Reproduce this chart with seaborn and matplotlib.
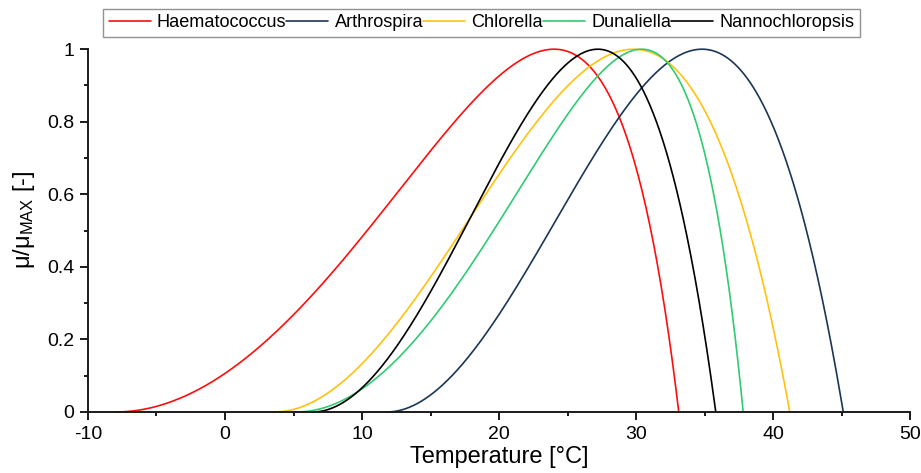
import numpy as np
import pandas as pd
import matplotlib
matplotlib.use("Agg")
import matplotlib.pyplot as plt
import seaborn as sns
from matplotlib.ticker import MultipleLocator

# Cardinal temperatures (°C) of each microalga for the CTMI growth model
species = ["Haematococcus", "Arthrospira", "Chlorella", "Dunaliella", "Nannochloropsis"]
t_min = [-8.0, 11.8, 3.6, 5.2, 6.4]
t_opt = [24.0, 34.8, 29.8, 30.4, 27.2]
t_max = [33.1, 45.1, 41.2, 37.8, 35.8]
colors = ["#FF0D0D", "#1B3656", "#FFC20E", "#2FCB72", "#000000"]


def ctmi(T, tmin, topt, tmax):
    """Cardinal temperature model with inflection (Rosso et al.)."""
    num = (T - tmax) * (T - tmin) ** 2
    den = (topt - tmin) * ((topt - tmin) * (T - topt)
                           - (topt - tmax) * (topt + tmin - 2 * T))
    return num / den


frames = []
for name, lo, opt, hi in zip(species, t_min, t_opt, t_max):
    T = np.linspace(lo, hi, 600)
    frames.append(pd.DataFrame({"Temperature": T,
                                "mu": ctmi(T, lo, opt, hi),
                                "Species": name}))
df = pd.concat(frames, ignore_index=True)

sns.set_theme(style="ticks")
plt.rcParams["font.family"] = ["Liberation Sans", "DejaVu Sans"]
plt.rcParams["mathtext.fontset"] = "custom"
plt.rcParams["mathtext.rm"] = "Liberation Sans"
plt.rcParams["mathtext.it"] = "Liberation Sans:italic"
plt.rcParams["axes.unicode_minus"] = False
plt.rcParams["text.color"] = "black"
plt.rcParams["axes.labelcolor"] = "black"
plt.rcParams["xtick.color"] = "black"
plt.rcParams["ytick.color"] = "black"

fig = plt.figure(figsize=(9.21, 4.73), dpi=100)
ax = fig.add_axes([0.0955, 0.129, 0.893, 0.767])

sns.lineplot(data=df, x="Temperature", y="mu", hue="Species",
             hue_order=species, palette=dict(zip(species, colors)),
             linewidth=1.2, ax=ax, legend=False, sort=False,
             estimator=None)
for line in ax.lines:
    line.set_clip_on(False)

ax.set_xlim(-10, 50)
ax.set_ylim(0, 1)
ax.xaxis.set_major_locator(MultipleLocator(10))
ax.xaxis.set_minor_locator(MultipleLocator(5))
ax.yaxis.set_minor_locator(MultipleLocator(0.1))
ax.set_yticks([0, 0.2, 0.4, 0.6, 0.8, 1.0])
ax.set_yticklabels(["0", "0.2", "0.4", "0.6", "0.8", "1"])

for side in ("top", "right"):
    ax.spines[side].set_visible(False)
for side in ("left", "bottom"):
    ax.spines[side].set_linewidth(1.4)
    ax.spines[side].set_color("#1a1a1a")

ax.tick_params(axis="both", which="major", direction="out", length=6,
               width=1.4, labelsize=14, color="#1a1a1a", pad=4)
ax.tick_params(axis="both", which="minor", direction="out", length=3,
               width=1.4, color="#1a1a1a")

ax.set_xlabel("Temperature [°C]", fontsize=17, labelpad=2)
ax.set_ylabel(r"μ/μ$_{\mathrm{MAX}}$ [-]", fontsize=17)
ax.yaxis.set_label_coords(-0.062, 0.53)

handles = [plt.Line2D([], [], color=c, linewidth=1.2) for c in colors]
leg = fig.legend(handles, species, loc="center", ncol=5,
                 bbox_to_anchor=(0.523, 0.952), fontsize=13.1,
                 frameon=True, fancybox=False, edgecolor="#777777",
                 handlelength=2.3, handletextpad=0.35, columnspacing=0.0,
                 borderpad=0.3, borderaxespad=0)
leg.get_frame().set_linewidth(1.0)

fig.savefig("out.png", dpi=100)
